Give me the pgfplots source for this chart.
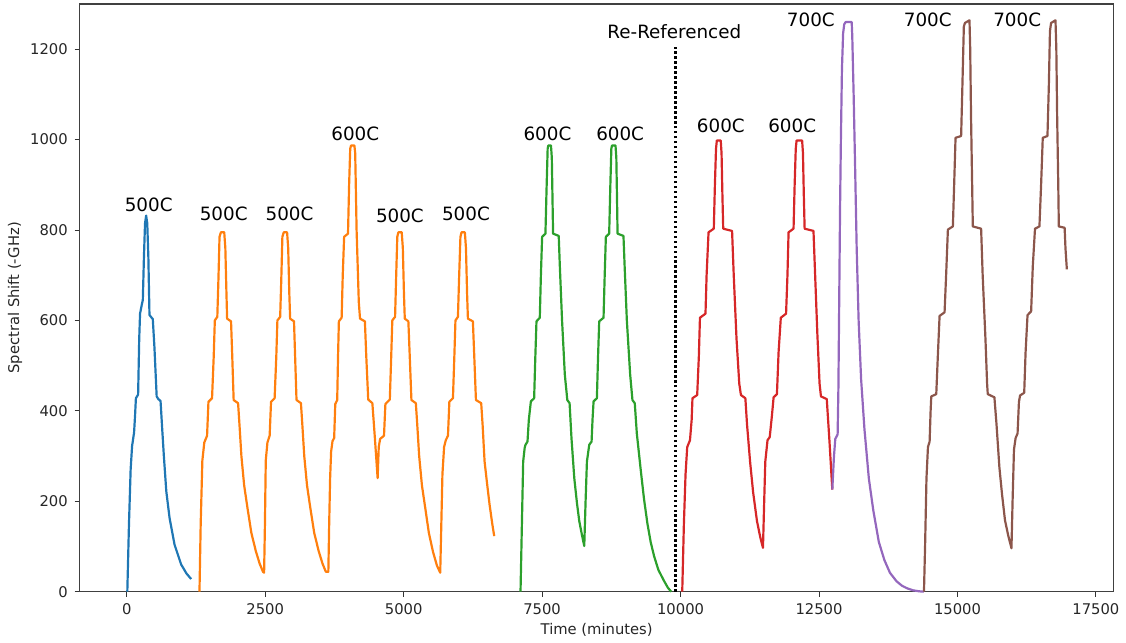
\documentclass[border=0pt]{standalone}
\usepackage{pgfplots}
\pgfplotsset{compat=1.18}
\usepackage{fontspec}
\setmainfont{DejaVu Sans}

\definecolor{c0}{HTML}{1F77B4}
\definecolor{c1}{HTML}{FF7F0E}
\definecolor{c2}{HTML}{2CA02C}
\definecolor{c3}{HTML}{D62728}
\definecolor{c4}{HTML}{9467BD}
\definecolor{c5}{HTML}{8C564B}

\begin{document}
\begin{tikzpicture}
\begin{axis}[
  scale only axis,
  width=519pt, height=295pt,
  xmin=-850, xmax=17820,
  ymin=0, ymax=1300,
  xtick={0,2500,5000,7500,10000,12500,15000,17500},
  ytick={0,200,400,600,800,1000,1200},
  scaled x ticks=false,
  /pgf/number format/assume math mode=true,
  /pgf/number format/1000 sep={},
  tick align=outside,
  tick pos=left,
  major tick length=2.5pt,
  tick style={black!80, line width=0.5pt},
  axis line style={black!75, line width=0.6pt},
  ticklabel style={font=\fontsize{7.4}{8}\selectfont, text=black!85},
  label style={font=\fontsize{7.4}{8}\selectfont, text=black!85},
  xlabel={Time (minutes)},
  ylabel={Spectral Shift (-GHz)},
  xlabel style={at={(axis description cs:0.5,-0.0644)}, anchor=center},
  ylabel style={at={(axis description cs:-0.0626,0.5)}, anchor=center},
  every axis plot/.append style={line width=1.1pt, line join=round},
  clip=false,
]

% first run (blue)
\addplot[c0] coordinates {
(10,0) (40,150) (70,270) (96,322) (132,352) (150,390) (165,428) (205,436)
(225,560) (240,615) (270,634) (290,645) (310,740) (330,815) (350,832)
(370,815) (390,740) (410,612) (470,603) (500,540) (540,432) (570,426)
(610,422) (640,360) (670,300) (714,222) (773,163) (863,104) (983,60)
(1080,40) (1163,28)
};

% orange runs
\addplot[c1] coordinates {
(1313,0) (1335,150) (1365,290) (1400,330) (1450,345) (1475,420) (1540,428)
(1570,520) (1590,600) (1635,608) (1655,690) (1675,785) (1700,795) (1760,795)
(1780,760) (1800,660) (1812,604) (1883,598) (1905,520) (1930,424) (2010,417)
(2035,370) (2070,300) (2120,235) (2180,185) (2250,130) (2330,90) (2400,62)
(2460,44) (2480,42)
(2495,150) (2510,290) (2540,330) (2580,345) (2605,420) (2670,428)
(2700,520) (2720,600) (2770,608) (2790,690) (2810,785) (2835,795) (2895,795)
(2915,760) (2935,660) (2950,604) (3020,598) (3040,520) (3065,424) (3145,417)
(3170,370) (3205,300) (3255,235) (3315,185) (3385,130) (3465,90) (3535,62)
(3595,44) (3640,44)
(3655,150) (3672,251) (3690,310) (3715,333) (3745,340) (3765,415) (3800,424)
(3815,520) (3830,598) (3880,606) (3900,700) (3925,785) (3995,792) (4015,900)
(4035,980) (4050,987) (4110,987) (4125,970) (4150,800) (4190,640) (4212,604)
(4300,598) (4325,520) (4360,425) (4435,417) (4480,340) (4530,251)
(4550,320) (4575,338) (4645,345) (4670,415) (4750,425) (4775,520) (4795,600)
(4845,608) (4865,700) (4885,785) (4905,795) (4965,795) (4985,760) (5005,660)
(5020,604) (5085,598) (5110,520) (5140,424) (5220,417) (5245,370) (5280,300)
(5330,235) (5390,185) (5455,130) (5530,88) (5600,58) (5660,42)
(5680,150) (5700,260) (5730,320) (5760,335) (5800,345) (5825,420) (5890,428)
(5915,520) (5935,600) (5980,608) (6000,690) (6025,785) (6045,795) (6105,795)
(6125,760) (6145,660) (6160,604) (6250,598) (6275,520) (6305,424) (6400,417)
(6425,370) (6461,288) (6510,235) (6551,193) (6600,150) (6635,123)
};

% green runs
\addplot[c2] coordinates {
(7110,0) (7135,150) (7158,288) (7185,318) (7200,325) (7236,332) (7260,380)
(7297,421) (7356,428) (7375,510) (7398,598) (7458,606) (7478,700) (7500,785)
(7560,792) (7580,890) (7600,980) (7612,987) (7660,987) (7675,960) (7690,850)
(7698,792) (7800,787) (7820,720) (7860,600) (7910,480) (7955,424) (7996,417)
(8030,340) (8081,251) (8130,195) (8171,156) (8220,125) (8261,101)
(8285,200) (8309,288) (8351,325) (8393,332) (8410,380) (8429,421) (8489,428)
(8510,520) (8531,598) (8609,606) (8630,700) (8651,785) (8711,792) (8730,890)
(8750,980) (8762,987) (8825,987) (8840,960) (8855,850) (8862,792) (8969,787)
(8990,720) (9030,600) (9090,480) (9131,424) (9173,417) (9210,350) (9281,269)
(9340,205) (9401,151) (9460,110) (9521,79) (9600,48) (9701,24) (9770,9)
(9830,0)
};

% reference change
\addplot[black, line width=1.5pt, dash pattern=on 1.25pt off 1.25pt, line join=miter]
  coordinates {(9910,0) (9910,1205)};

% red runs
\addplot[c3] coordinates {
(10030,0) (10060,150) (10090,260) (10120,320) (10170,335) (10200,380)
(10215,428) (10300,435) (10330,520) (10350,606) (10450,615) (10470,700)
(10505,795) (10600,803) (10620,900) (10640,980) (10655,998) (10725,998)
(10740,970) (10755,880) (10770,803) (10930,798) (10960,700) (11010,560)
(11060,460) (11090,435) (11170,428) (11200,370) (11255,288) (11310,220)
(11380,156) (11440,120) (11488,97)
(11510,200) (11530,288) (11570,335) (11610,342) (11650,390) (11680,430)
(11740,437) (11770,530) (11810,606) (11905,615) (11930,700) (11950,795)
(12040,803) (12060,900) (12080,980) (12095,998) (12195,998) (12210,970)
(12225,880) (12240,803) (12400,798) (12430,700) (12470,570) (12510,460)
(12535,432) (12640,426) (12690,330) (12740,226)
};

% purple run
\addplot[c4] coordinates {
(12740,226) (12770,300) (12794,338) (12836,348) (12850,450) (12865,650)
(12880,850) (12895,1000) (12914,1156) (12935,1235) (12955,1255) (12980,1260)
(13090,1260) (13100,1230) (13125,1100) (13150,950) (13180,760) (13215,600)
(13260,470) (13320,360) (13400,250) (13480,180) (13580,110) (13680,70)
(13780,42) (13900,23) (14000,13) (14100,7) (14200,3) (14300,1) (14390,0)
};

% brown runs
\addplot[c5] coordinates {
(14395,0) (14415,100) (14440,250) (14467,320) (14497,332) (14515,400)
(14527,432) (14617,437) (14645,520) (14677,610) (14767,618) (14795,700)
(14827,801) (14917,808) (14940,900) (14965,1004) (15066,1008) (15085,1100)
(15105,1200) (15115,1250) (15135,1258) (15217,1264) (15230,1200) (15245,1050)
(15265,900) (15277,808) (15427,803) (15455,700) (15505,560) (15535,460)
(15547,437) (15667,430) (15705,370) (15757,275) (15805,215) (15858,158)
(15915,125) (15975,96)
(15995,200) (16020,314) (16050,340) (16085,350) (16110,420) (16130,434)
(16205,440) (16230,530) (16265,612) (16330,620) (16360,720) (16400,803)
(16480,808) (16510,900) (16540,1004) (16625,1008) (16650,1120) (16670,1240)
(16690,1258) (16770,1264) (16785,1200) (16800,1050) (16820,900) (16830,808)
(16935,805) (16950,760) (16975,713)
};

% temperature annotations
\begin{scope}[every node/.style={font=\fontsize{9.2}{10}\selectfont, text=black, inner sep=0pt, anchor=center}]
\node at (axis cs:396,855) {500C};
\node at (axis cs:1751,835) {500C};
\node at (axis cs:2939,835) {500C};
\node at (axis cs:4127,1013) {600C};
\node at (axis cs:4932,832) {500C};
\node at (axis cs:6125,836) {500C};
\node at (axis cs:7596,1013) {600C};
\node at (axis cs:8909,1013) {600C};
\node at (axis cs:9887,1238) {Re-Referenced};
\node at (axis cs:10727,1031) {600C};
\node at (axis cs:12016,1031) {600C};
\node at (axis cs:12352,1265) {700C};
\node at (axis cs:14464,1265) {700C};
\node at (axis cs:16078,1265) {700C};
\end{scope}
\end{axis}
\path[use as bounding box] ([shift={(-40pt,-24.5pt)}]current axis.south west)
  rectangle ([shift={(4pt,2pt)}]current axis.north east);
\end{tikzpicture}
\end{document}
